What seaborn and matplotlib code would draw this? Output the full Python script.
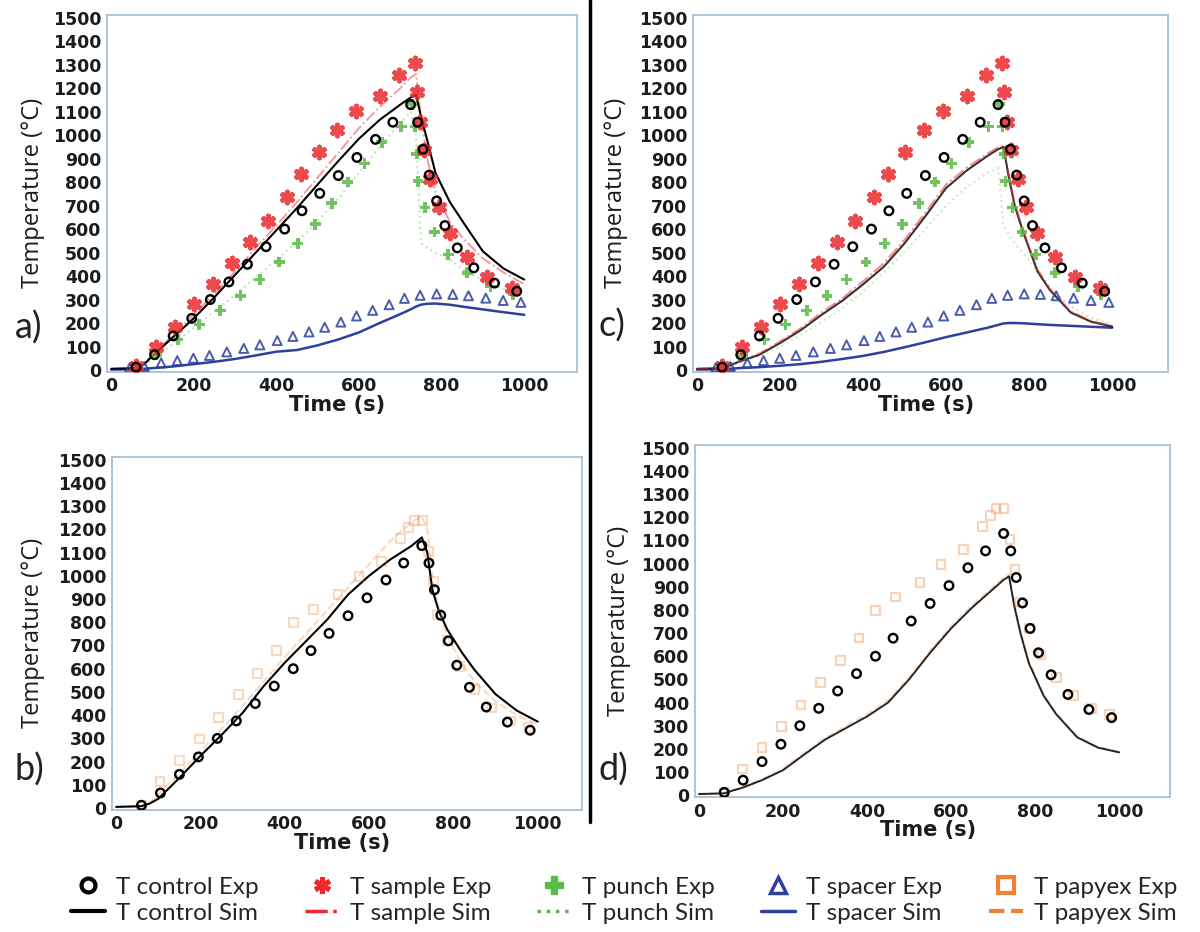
import matplotlib
matplotlib.use("Agg")
import matplotlib.pyplot as plt
from matplotlib.lines import Line2D
import seaborn as sns

# experimental measurements, time (s) / temperature (degC)
control_exp_t = [60, 105, 150, 195, 240, 285, 330, 375, 420, 462, 505, 550, 595, 640, 682, 725, 742, 755, 770, 788, 808, 838, 878, 928, 982]
control_exp_T = [12, 65, 145, 220, 300, 375, 450, 525, 600, 678, 752, 828, 905, 982, 1055, 1130, 1055, 940, 830, 720, 615, 520, 435, 370, 335]

sample_exp_t = [60, 108, 155, 200, 246, 292, 337, 380, 425, 460, 502, 547, 593, 650, 696, 735, 740, 747, 757, 772, 793, 820, 862, 910, 970]
sample_exp_T = [15, 97, 185, 280, 365, 457, 545, 635, 735, 835, 928, 1020, 1102, 1165, 1255, 1307, 1185, 1055, 935, 815, 695, 585, 480, 395, 348]

punch_exp_t = [60, 110, 162, 213, 264, 313, 360, 407, 452, 494, 534, 573, 613, 655, 702, 728, 736, 740, 743, 760, 783, 816, 862, 918, 973]
punch_exp_T = [12, 65, 130, 194, 253, 316, 385, 460, 538, 621, 710, 801, 880, 970, 1036, 1132, 1036, 920, 804, 692, 588, 492, 414, 355, 322]

spacer_exp_t = [45, 80, 121, 160, 199, 238, 280, 321, 360, 402, 440, 479, 517, 556, 594, 633, 673, 710, 748, 788, 827, 865, 907, 949, 992]
spacer_exp_T = [10, 15, 30, 40, 50, 62, 77, 92, 107, 125, 143, 162, 182, 204, 230, 254, 278, 305, 318, 324, 322, 316, 306, 296, 288]

papyex_exp_t = [60, 104, 150, 197, 243, 290, 336, 381, 420, 468, 526, 576, 630, 675, 694, 707, 726, 740, 752, 763, 786, 814, 851, 891, 935, 977]
papyex_exp_T = [10, 113, 205, 297, 389, 488, 580, 679, 799, 856, 919, 997, 1061, 1160, 1209, 1237, 1237, 1103, 976, 834, 721, 608, 509, 431, 375, 347]

# simulations
sim_t = [0, 60, 80, 100, 150, 200, 250, 300, 350, 400, 450, 500, 550, 600, 650, 700, 725, 738, 750, 765, 785, 820, 850, 900, 950, 1000]

a_control_sim = [5, 8, 25, 60, 140, 220, 310, 405, 500, 595, 690, 790, 890, 985, 1065, 1130, 1160, 1172, 1080, 980, 840, 715, 635, 505, 432, 385]
a_sample_sim = [5, 8, 28, 65, 150, 235, 325, 420, 520, 615, 715, 820, 925, 1030, 1120, 1200, 1245, 1260, 1080, 900, 760, 630, 565, 475, 415, 365]
a_punch_sim = [5, 8, 20, 45, 110, 180, 250, 320, 395, 470, 545, 635, 730, 840, 950, 1050, 1100, 1000, 540, 520, 500, 470, 430, 380, 345, 320]
a_spacer_sim = [2, 3, 5, 8, 15, 25, 35, 47, 62, 78, 85, 105, 130, 160, 200, 238, 258, 270, 278, 282, 283, 278, 270, 258, 246, 235]

c_control_sim = [5, 8, 20, 35, 65, 115, 170, 235, 295, 365, 440, 540, 655, 775, 850, 912, 940, 950, 830, 700, 590, 420, 340, 245, 205, 185]
c_sample_sim = [5, 8, 22, 38, 70, 122, 178, 245, 305, 378, 455, 555, 670, 790, 862, 922, 948, 955, 840, 710, 598, 428, 345, 250, 208, 188]
c_punch_sim = [5, 8, 15, 30, 60, 100, 150, 205, 265, 335, 415, 505, 600, 700, 780, 840, 860, 620, 580, 540, 500, 420, 350, 270, 220, 195]
c_spacer_sim = [2, 3, 5, 8, 12, 18, 25, 35, 47, 60, 77, 97, 118, 140, 160, 180, 192, 198, 200, 200, 199, 195, 192, 188, 184, 180]

b_control_sim = [5, 8, 20, 40, 130, 225, 315, 410, 525, 626, 718, 810, 919, 1000, 1070, 1128, 1165, 1100, 940, 850, 770, 670, 595, 490, 420, 372]
b_papyex_sim = [5, 8, 25, 60, 150, 245, 340, 440, 545, 650, 750, 850, 950, 1050, 1150, 1230, 1255, 1200, 1000, 860, 740, 620, 545, 460, 400, 360]

d_control_sim = [5, 8, 20, 30, 65, 108, 175, 240, 290, 340, 400, 500, 615, 720, 810, 890, 930, 945, 820, 700, 570, 430, 350, 250, 205, 185]
d_papyex_sim = [5, 8, 22, 33, 70, 115, 182, 248, 298, 350, 410, 510, 625, 730, 820, 900, 940, 955, 830, 710, 580, 438, 355, 255, 208, 188]

x_ticks = [0, 200, 400, 600, 800, 1000]
y_ticks = list(range(0, 1600, 100))

colors = {"control": "black", "sample": "#ea2a2e", "punch": "#5bb947",
          "spacer": "#2d3f9f", "papyex": "#f08236"}
spine_color = "#a9c1d3"

sns.set_style("white")
plt.rcParams["font.family"] = ["DejaVu Sans"]

fig = plt.figure(figsize=(12, 9.32), dpi=100)


def exp_points(ax, t, T, kind, alpha=0.85):
    c = colors[kind]
    if kind == "control":
        sns.scatterplot(x=t, y=T, ax=ax, marker="o", s=38, facecolors="none",
                        edgecolor=c, linewidth=1.7, zorder=5)
    elif kind == "sample":
        sns.scatterplot(x=t, y=T, ax=ax, marker=(6, 2, 0), s=60, color=c,
                        linewidth=3.6, alpha=alpha, zorder=4)
    elif kind == "punch":
        sns.scatterplot(x=t, y=T, ax=ax, marker="P", s=60, color=c,
                        edgecolor="none", alpha=alpha, zorder=4)
    elif kind == "spacer":
        sns.scatterplot(x=t, y=T, ax=ax, marker="^", s=42, facecolors="none",
                        edgecolor=c, linewidth=1.4, alpha=alpha, zorder=4)
    elif kind == "papyex":
        sns.scatterplot(x=t, y=T, ax=ax, marker="s", s=40, facecolors="none",
                        edgecolor=c, linewidth=1.6, alpha=alpha, zorder=3)


def sim_line(ax, T, kind, alpha=1.0, lw=1.5):
    styles = {"control": "-", "sample": "-.", "punch": ":", "spacer": "-", "papyex": "--"}
    sns.lineplot(x=sim_t, y=T, ax=ax, color=colors[kind], linestyle=styles[kind],
                 linewidth=lw, alpha=alpha, zorder=3)


def style_axes(ax, xmax, ylab_x):
    ax.set_xlim(-10, xmax)
    ax.set_ylim(-8, 1512)
    ax.set_xticks(x_ticks)
    ax.set_yticks(y_ticks)
    ax.tick_params(axis="both", labelsize=12.5, length=2, width=1, color=spine_color,
                   pad=2, labelcolor="#1c1c1c")
    for lab in ax.get_xticklabels() + ax.get_yticklabels():
        lab.set_fontweight("bold")
    for sp in ax.spines.values():
        sp.set_color(spine_color)
        sp.set_linewidth(1.3)
    ax.set_xlabel("Time (s)", fontsize=15, fontweight="bold", color="#1c1c1c")
    ax.xaxis.set_label_coords(0.49, -0.064)
    ax.set_ylabel("Temperature (°C)", fontsize=17, family="Open Sans", color="#1c1c1c")
    ax.yaxis.set_label_coords(ylab_x, 0.5)


# a) control / sample / punch / spacer, first model
ax_a = fig.add_axes([0.0892, 0.601, 0.3917, 0.383])
sim_line(ax_a, a_punch_sim, "punch", alpha=0.35)
sim_line(ax_a, a_spacer_sim, "spacer", lw=1.8)
sim_line(ax_a, a_sample_sim, "sample", alpha=0.5, lw=1.3)
sim_line(ax_a, a_control_sim, "control", lw=1.5)
exp_points(ax_a, spacer_exp_t, spacer_exp_T, "spacer")
exp_points(ax_a, punch_exp_t, punch_exp_T, "punch")
exp_points(ax_a, sample_exp_t, sample_exp_T, "sample")
exp_points(ax_a, control_exp_t, control_exp_T, "control")
style_axes(ax_a, 1128, -0.132)

# c) same measurements, second model
ax_c = fig.add_axes([0.5775, 0.601, 0.396, 0.383])
sim_line(ax_c, c_punch_sim, "punch", alpha=0.3)
sim_line(ax_c, c_spacer_sim, "spacer", lw=1.8)
sim_line(ax_c, c_control_sim, "control", alpha=0.8, lw=1.5)
sim_line(ax_c, c_sample_sim, "sample", alpha=0.55, lw=1.4)
exp_points(ax_c, spacer_exp_t, spacer_exp_T, "spacer")
exp_points(ax_c, punch_exp_t, punch_exp_T, "punch")
exp_points(ax_c, sample_exp_t, sample_exp_T, "sample")
exp_points(ax_c, control_exp_t, control_exp_T, "control")
style_axes(ax_c, 1135, -0.137)

# b) control / papyex, first model
ax_b = fig.add_axes([0.0933, 0.131, 0.3917, 0.3788])
sim_line(ax_b, b_papyex_sim, "papyex", alpha=0.3, lw=1.5)
sim_line(ax_b, b_control_sim, "control", lw=1.5)
exp_points(ax_b, papyex_exp_t, papyex_exp_T, "papyex", alpha=0.3)
exp_points(ax_b, control_exp_t, control_exp_T, "control")
style_axes(ax_b, 1105, -0.143)

# d) control / papyex, second model
ax_d = fig.add_axes([0.579, 0.1448, 0.396, 0.3777])
sim_line(ax_d, d_papyex_sim, "papyex", alpha=0.3, lw=1.5)
sim_line(ax_d, d_control_sim, "control", alpha=0.85, lw=1.4)
exp_points(ax_d, papyex_exp_t, papyex_exp_T, "papyex", alpha=0.35)
exp_points(ax_d, control_exp_t, control_exp_T, "control")
style_axes(ax_d, 1121, -0.135)

# panel letters and separator
for lab, x, y in [("a)", 0.012, 0.648), ("c)", 0.499, 0.651), ("b)", 0.012, 0.174), ("d)", 0.499, 0.174)]:
    fig.text(x, y, lab, fontsize=26, family="Lato", va="center", ha="left", color="#222222")
fig.add_artist(Line2D([0.4917, 0.4917], [1 - 822 / 932, 1.0], color="black", linewidth=2.5))

# shared legend
handles = [
    Line2D([], [], linestyle="none", marker="o", markersize=10, markerfacecolor="none",
           markeredgecolor="black", markeredgewidth=3),
    Line2D([], [], color="black", linewidth=3),
    Line2D([], [], linestyle="none", marker=(6, 2, 0), markersize=12,
           markeredgecolor=colors["sample"], markeredgewidth=3.5),
    Line2D([], [], color=colors["sample"], linewidth=2.5, linestyle="-."),
    Line2D([], [], linestyle="none", marker="P", markersize=13, color=colors["punch"]),
    Line2D([], [], color=colors["punch"], linewidth=2.5, linestyle=":"),
    Line2D([], [], linestyle="none", marker="^", markersize=11, markerfacecolor="none",
           markeredgecolor=colors["spacer"], markeredgewidth=2.5),
    Line2D([], [], color=colors["spacer"], linewidth=2.5),
    Line2D([], [], linestyle="none", marker="s", markersize=11, markerfacecolor="none",
           markeredgecolor=colors["papyex"], markeredgewidth=3),
    Line2D([], [], color=colors["papyex"], linewidth=3, linestyle="--"),
]
labels = ["T control Exp", "T control Sim", "T sample Exp", "T sample Sim",
          "T punch Exp", "T punch Sim", "T spacer Exp", "T spacer Sim",
          "T papyex Exp", "T papyex Sim"]
fig.legend(handles, labels, ncol=5, loc="center", bbox_to_anchor=(0.52, 0.034),
           frameon=False, prop={"family": "Lato", "size": 17.5}, handlelength=1.4,
           handletextpad=0.45, columnspacing=1.9, labelspacing=0.22)

fig.savefig("out.png", dpi=100)
